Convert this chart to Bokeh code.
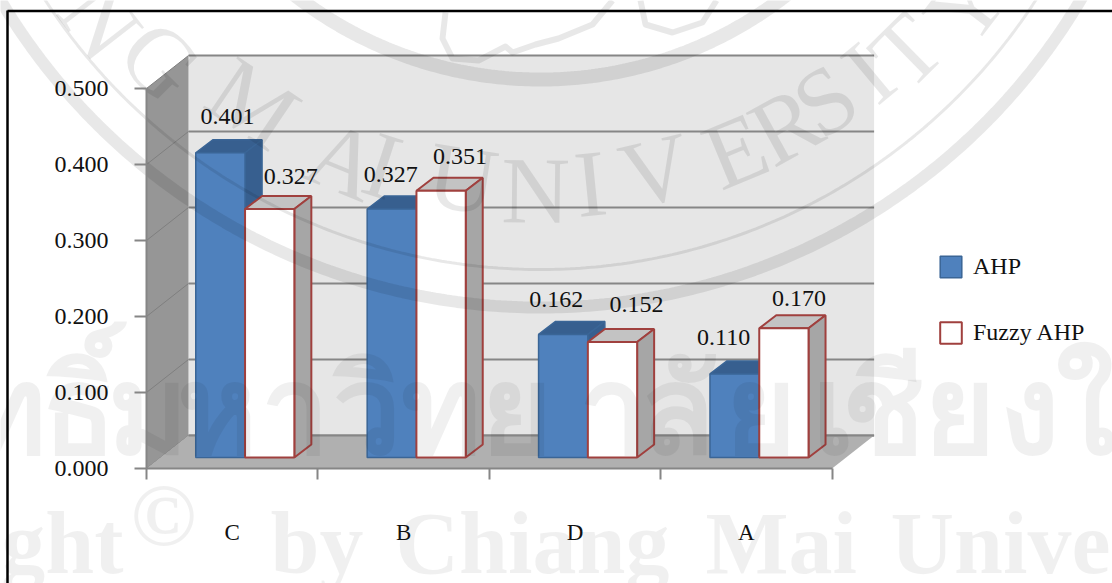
import numpy as np
from bokeh.core.properties import value
from bokeh.embed import file_html
from bokeh.models import FixedTicker, Legend, LegendItem, NumeralTickFormatter, Range1d
from bokeh.plotting import figure
from bokeh.resources import INLINE

# ---- data -------------------------------------------------------------
categories = ["C", "B", "D", "A"]
ahp = [0.401, 0.327, 0.162, 0.110]
fuzzy_ahp = [0.327, 0.351, 0.152, 0.170]
value_ticks = [0.0, 0.1, 0.2, 0.3, 0.4, 0.5]
series_names = ["AHP", "Fuzzy AHP"]

# ---- label nudges in px (layout only) -----------------------------------
ahp_label_dx = [7, -1, -7, -11]
ahp_label_dy = [-23, -21, -22, -23]
fuzzy_label_dx = [21, 19, 24, 15]
fuzzy_label_dy = [-19, -21, -24, -17]

# ---- geometry ----------------------------------------------------------
W, H = 1112, 583
X0_PX, X_UNIT = 146, 171.4
Y0_PX, Y_UNIT = 468, 760.0


def dx(px):
    return (px - X0_PX) / X_UNIT


def dy(py):
    return (Y0_PX - py) / Y_UNIT


p = figure(width=W, height=H, output_backend="svg", toolbar_location=None,
           x_range=Range1d(dx(0), dx(W)), y_range=Range1d(dy(H), dy(0)),
           min_border=0, background_fill_color="white", border_fill_color="white")
p.grid.visible = False
p.outline_line_color = None

WALL_X, WALL_Y = 42 / X_UNIT, 33 / Y_UNIT
SPAN = len(categories)
TOP = max(value_ticks)
GRID = "#868686"

# back wall, left wall, floor
p.patch([WALL_X, SPAN + WALL_X, SPAN + WALL_X, WALL_X],
        [WALL_Y, WALL_Y, TOP + WALL_Y, TOP + WALL_Y], fill_color="#E6E6E6", line_color=None)
p.segment([WALL_X] * 6, [v + WALL_Y for v in value_ticks],
          [SPAN + WALL_X] * 6, [v + WALL_Y for v in value_ticks], line_color=GRID, line_width=2)
p.patch([0, WALL_X, WALL_X, 0], [0, WALL_Y, TOP + WALL_Y, TOP],
        fill_color="#969696", line_color=None)
p.segment([0] * 6, value_ticks, [WALL_X] * 6, [v + WALL_Y for v in value_ticks],
          line_color="#7F7F7F", line_width=1)
p.patch([0, SPAN, SPAN + WALL_X, WALL_X], [0, 0, WALL_Y, WALL_Y],
        fill_color="#B0B0B0", line_color=None)
p.segment([WALL_X], [WALL_Y], [SPAN + WALL_X], [WALL_Y], line_color=GRID, line_width=2)

# bars
BAR_START, BAR_W = 0.2875, 0.2875
BASE = 11 / Y_UNIT
BAR_DX, BAR_DY = 17 / X_UNIT, 13 / Y_UNIT


def boxes(vals, slot, front, edge, top, side, edge_width):
    x0 = [i + BAR_START + slot * BAR_W for i in range(len(vals))]
    x1 = [x + BAR_W for x in x0]
    t = [BASE + v for v in vals]
    p.patches([[a, a + BAR_DX, b + BAR_DX, b] for a, b in zip(x0, x1)],
              [[h, h + BAR_DY, h + BAR_DY, h] for h in t],
              fill_color=top, line_color=edge, line_width=edge_width)
    p.patches([[b, b + BAR_DX, b + BAR_DX, b] for b in x1],
              [[BASE, BASE + BAR_DY, h + BAR_DY, h] for h in t],
              fill_color=side, line_color=edge, line_width=edge_width)
    return p.quad(left=x0, right=x1, bottom=BASE, top=t,
                  fill_color=front, line_color=edge, line_width=edge_width)


r_ahp = boxes(ahp, 0, "#4F81BD", "#3A6596", "#375F8F", "#375F8F", 1.5)
r_fuzzy = boxes(fuzzy_ahp, 1, "#FFFFFF", "#A0403E", "#C3C3C3", "#A6A6A6", 2)

# axes
FONT = "Liberation Serif"
ya = p.yaxis[0]
ya.fixed_location = 0
ya.bounds = (0, TOP)
ya.ticker = FixedTicker(ticks=value_ticks, minor_ticks=[])
ya.formatter = NumeralTickFormatter(format="0.000")
ya.axis_line_color = GRID
ya.axis_line_width = 2
ya.major_tick_line_color = GRID
ya.major_tick_line_width = 2
ya.major_tick_in = 0
ya.major_tick_out = 12
ya.major_label_standoff = 26
ya.major_label_text_font = FONT
ya.major_label_text_font_size = "24px"
ya.major_label_text_color = "#111111"

xa = p.xaxis[0]
xa.fixed_location = 0
xa.bounds = (0, SPAN)
xa.ticker = FixedTicker(ticks=[i + 0.5 for i in range(SPAN)], minor_ticks=list(range(SPAN + 1)))
xa.major_label_overrides = {i + 0.5: c for i, c in enumerate(categories)}
xa.axis_line_color = GRID
xa.axis_line_width = 2
xa.major_tick_line_color = None
xa.major_tick_in = 0
xa.major_tick_out = 0
xa.minor_tick_line_color = GRID
xa.minor_tick_line_width = 2
xa.minor_tick_in = 0
xa.minor_tick_out = 11
xa.major_label_standoff = 40
xa.major_label_text_font = FONT
xa.major_label_text_font_size = "23px"
xa.major_label_text_color = "#111111"

# chart frame of the scanned page
p.segment([dx(7)], [dy(10)], [dx(7)], [dy(H)], line_color="black", line_width=2.5)
p.segment([dx(7)], [dy(10.5)], [dx(W)], [dy(10.5)], line_color="black", line_width=2.5)

# ---- watermark ---------------------------------------------------------
WM = "black"
WM_A = 0.09
CX, CY = 540, -321
rings = [(628, 12), (590, 3), (400, 14)]
th = np.linspace(0, 2 * np.pi, 720)
p.multi_line([[dx(CX + R * np.cos(a)) for a in th] for R, _ in rings],
             [[dy(CY + R * np.sin(a)) for a in th] for R, _ in rings],
             line_color=WM, line_alpha=WM_A, line_width=[w for _, w in rings])

seal_letters = list("NGMAIUNIVERSITY")
seal_x = [100, 160, 253, 343, 382, 462, 535, 590, 655, 735, 785, 825, 868, 906, 965]
seal_y = [20, 60, 103, 160, 165, 178, 190, 183, 170, 150, 125, 100, 72, 50, 5]
p.text([dx(x) for x in seal_x], [dy(y) for y in seal_y], text=seal_letters,
       angle=[float(np.arctan2(x - CX, y - CY)) for x, y in zip(seal_x, seal_y)],
       text_font=value(FONT), text_font_size="95px", text_align="center",
       text_baseline="middle", text_color=WM, text_alpha=WM_A)

emblem_x = [[445, 442, 452, 478, 505, 512, 535, 558, 592, 612], [640, 645, 672, 702, 716]]
emblem_y = [[12, 38, 58, 60, 46, 52, 44, 38, 24, 0], [0, 24, 32, 22, 0]]
p.multi_line([[dx(x) for x in xs] for xs in emblem_x], [[dy(y) for y in ys] for ys in emblem_y],
             line_color=WM, line_alpha=WM_A, line_width=6, line_join="round")

wm_glyphs = ["ท", "ธิ์", "ม", "ห", "า", "วิ", "ท", "ย", "า", "ลั", "ย", "เ", "ชี", "ย", "ง", "ใ"]
wm_x = [5, 78, 147, 216, 295, 367, 440, 516, 613, 677, 760, 832, 883, 959, 1029, 1085]
p.text([dx(x) for x in wm_x], [dy(405)] * len(wm_x), text=wm_glyphs,
       text_font=value("Noto Sans"), text_font_size="122px", text_font_style="bold",
       text_align="center", text_color=WM, text_alpha=0.06, text_baseline="middle")
word_text = ["Copyright", "©", "by", "Chiang", "Mai", "University"]
word_x = [123, 130, 270, 395, 705, 890]
word_y = [543, 515, 543, 543, 543, 543]
word_align = ["right", "left", "left", "left", "left", "left"]
p.text([dx(x) for x in word_x], [dy(y) for y in word_y], text=word_text,
       text_align=word_align, text_font=value(FONT), text_font_size="88px",
       text_font_style="bold", text_color=WM, text_alpha=0.06, text_baseline="middle")

# value labels
for vals, slot, ldx, ldy in ((ahp, 0, ahp_label_dx, ahp_label_dy),
                             (fuzzy_ahp, 1, fuzzy_label_dx, fuzzy_label_dy)):
    p.text([i + BAR_START + (slot + 0.5) * BAR_W for i in range(len(vals))],
           [BASE + BAR_DY + v for v in vals],
           text=[f"{v:.3f}" for v in vals], x_offset=ldx, y_offset=ldy,
           text_font=value(FONT), text_font_size="24px", text_align="center",
           text_baseline="middle", text_color="#111111")

# legend
legend = Legend(items=[LegendItem(label=series_names[0], renderers=[r_ahp]),
                       LegendItem(label=series_names[1], renderers=[r_fuzzy])],
                location=(937, H - 346), orientation="vertical", spacing=39,
                glyph_width=27, glyph_height=27, label_width=10, label_height=27,
                label_standoff=9, padding=0, margin=0,
                background_fill_alpha=0, border_line_color=None,
                label_text_font=FONT, label_text_font_size="24px", label_text_color="#111111")
p.add_layout(legend, "center")

open("out.html", "w").write(file_html(p, INLINE))
